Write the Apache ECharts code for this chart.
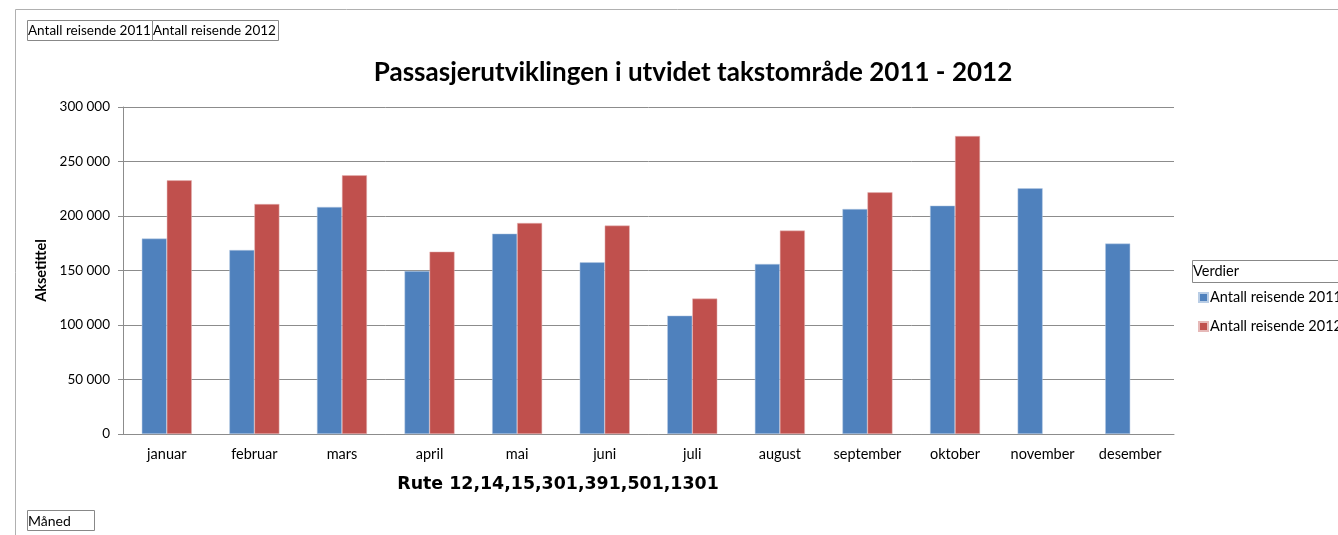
<!DOCTYPE html>
<html>
<head>
<meta charset="utf-8">
<script src="https://cdn.jsdelivr.net/npm/echarts@6/dist/echarts.min.js"></script>
<style>html,body{margin:0;padding:0;background:#fff}#c{width:1338px;height:535px}</style>
</head>
<body>
<div id="c"></div>
<script>
var months = ['januar','februar','mars','april','mai','juni','juli','august','september','oktober','november','desember'];
var reisende2011 = [179300, 168800, 208300, 149500, 183800, 157500, 108600, 156000, 206400, 209500, 225400, 174700];
var reisende2012 = [232700, 211000, 237300, 167300, 193600, 191200, 124200, 186600, 221700, 273400, null, null];
var seriesNames = ['Antall reisende 2011', 'Antall reisende 2012'];
var yTicks = [0, 50000, 100000, 150000, 200000, 250000, 300000];

var FONT = 'Lato';
var chart = echarts.init(document.getElementById('c'), null, {renderer: 'canvas'});
function fmt(v){ return String(v).replace(/\B(?=(\d{3})+(?!\d))/g, '\u00a0'); }

chart.setOption({
  animation: false,
  backgroundColor: '#fff',
  textStyle: {fontFamily: FONT},
  title: [
    {text: 'Passasjerutviklingen i utvidet takstområde 2011 - 2012', left: 688, top: 55, textAlign: 'center',
     textStyle: {fontFamily: FONT, fontWeight: 'bold', fontSize: 26, color: '#000'}},
    {text: 'Rute 12,14,15,301,391,501,1301', left: 553, top: 471, textAlign: 'center',
     textStyle: {fontFamily: 'DejaVu Sans', fontWeight: 'bold', fontSize: 17.4, color: '#000'}}
  ],
  grid: {left: 123, right: 164, top: 107, bottom: 101, containLabel: false},
  legend: {
    orient: 'vertical', left: 1193, top: 285, itemWidth: 9, itemHeight: 9, itemGap: 14, icon: 'rect',
    data: seriesNames,
    textStyle: {fontFamily: FONT, fontSize: 14.5, color: '#000', padding: [0,0,0,-3]}
  },
  xAxis: {
    type: 'category', data: months,
    axisLine: {lineStyle: {color: '#8c8c8c', width: 1}},
    axisTick: {show: false},
    axisLabel: {fontFamily: FONT, fontSize: 14.5, color: '#000', margin: 13, interval: 0}
  },
  yAxis: {
    type: 'value', min: yTicks[0], max: yTicks[yTicks.length-1], interval: yTicks[1]-yTicks[0],
    name: 'Aksetittel', nameLocation: 'middle', nameGap: 72, nameRotate: 90,
    nameTextStyle: {fontFamily: FONT, fontWeight: 'bold', fontSize: 14.5, color: '#000'},
    axisLine: {show: true, lineStyle: {color: '#8c8c8c'}},
    axisTick: {show: true, length: 5, lineStyle: {color: '#8c8c8c'}},
    axisLabel: {fontFamily: FONT, fontSize: 13.5, color: '#000', margin: 13, formatter: fmt},
    splitLine: {lineStyle: {color: '#8c8c8c', width: 1}}
  },
  series: [
    {name: seriesNames[0], type: 'bar', data: reisende2011, barWidth: 25, barGap: '0%',
     itemStyle: {color: '#4F81BD', borderColor: '#b9cde5', borderWidth: 0.5}},
    {name: seriesNames[1], type: 'bar', data: reisende2012, barWidth: 25,
     itemStyle: {color: '#C0504D', borderColor: '#e6b9b8', borderWidth: 0.5}}
  ],
  graphic: [
    {type: 'rect', shape: {x: 15.5, y: 9.5, width: 1400, height: 600}, style: {fill: 'none', stroke: '#b0b0b0', lineWidth: 1}},
    {type: 'rect', shape: {x: 27.5, y: 20.5, width: 125, height: 20}, style: {fill: '#fff', stroke: '#888', lineWidth: 1}},
    {type: 'rect', shape: {x: 152.5, y: 20.5, width: 126, height: 20}, style: {fill: '#fff', stroke: '#888', lineWidth: 1}},
    {type: 'text', x: 28, y: 24, style: {text: seriesNames[0], font: '13.5px Lato', fill: '#000'}},
    {type: 'text', x: 153, y: 24, style: {text: seriesNames[1], font: '13.5px Lato', fill: '#000'}},
    {type: 'rect', shape: {x: 1192.5, y: 260.5, width: 160, height: 22}, style: {fill: '#fff', stroke: '#888', lineWidth: 1}},
    {type: 'text', x: 1193, y: 264, style: {text: 'Verdier', font: '14.5px Lato', fill: '#000'}},
    {type: 'rect', shape: {x: 27.5, y: 510.5, width: 67, height: 20}, style: {fill: '#fff', stroke: '#888', lineWidth: 1}},
    {type: 'text', x: 28, y: 514, style: {text: 'Måned', font: '14px Lato', fill: '#000'}}
  ]
});
</script>
</body>
</html>
